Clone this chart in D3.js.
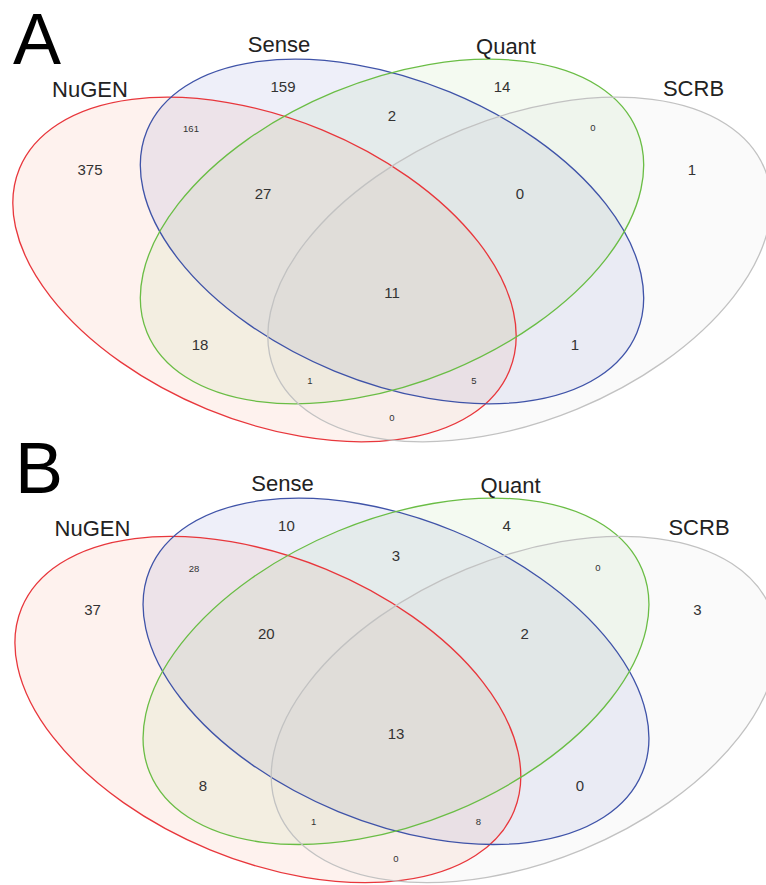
<!DOCTYPE html>
<html>
<head>
<meta charset="utf-8">
<script src="https://cdn.jsdelivr.net/npm/d3@7"></script>
<style>
html,body{margin:0;padding:0;background:#fff;}
svg{display:block;}
</style>
</head>
<body>
<svg id="chart" width="766" height="885"></svg>
<script>
// ---- data ----
const setNames = ["NuGEN", "Sense", "Quant", "SCRB"];
const panels = ["A", "B"];
// region keys: N=NuGEN, S=Sense, Q=Quant, C=SCRB
const regionKeys = ["N","S","Q","C","NS","SQ","QC","NSQ","SQC","NSQC","NQ","SC","NQC","NSC","NC"];
const valuesA = [375, 159, 14, 1, 161, 2, 0, 27, 0, 11, 18, 1, 1, 5, 0];
const valuesB = [37, 10, 4, 3, 28, 3, 0, 20, 2, 13, 8, 0, 1, 8, 0];
const smallRegions = ["NS","QC","NQC","NSC","NC"];

// ---- layout (model units, relative to diagram symmetry centre) ----
const ellipseLayout = [
  {cx:-127.5, cy:0,   rot: 22.4, stroke:"#e8373c", fill:"rgba(240,110,70,0.09)"},
  {cx:0,      cy:-38, rot: 22.4, stroke:"#3f53a8", fill:"rgba(70,80,190,0.09)"},
  {cx:0,      cy:-38, rot:-22.4, stroke:"#6abd45", fill:"rgba(120,190,80,0.08)"},
  {cx:127.5,  cy:0,   rot:-22.4, stroke:"#c2c2c2", fill:"rgba(190,190,190,0.08)"}
];
const semiA = 265, semiB = 151;
const regionPos = {
  N:[-302,-99.5], S:[-109,-182.5], Q:[110,-182.5], C:[300,-99.5],
  NS:[-201,-140.5], SQ:[0,-153.5], QC:[201,-141.5],
  NSQ:[-129,-75.5], SQC:[128,-75.5], NSQC:[0,23.5],
  NQ:[-192,75.5], SC:[183,75.5], NQC:[-82,111.5], NSC:[82,111.5], NC:[0,148.5]
};
const namePos = [[-302,-172.5],[-113,-217.5],[114,-215.5],[301.5,-173.5]];
const panelGeom = [
  {cx:392, cy:269.5, k:1.0,  letterX:13, letterY:64, values:valuesA},
  {cx:396, cy:709.5, k:1.005, letterX:15, letterY:493, values:valuesB}
];

const svg = d3.select("#chart");

panelGeom.forEach((pg, pi) => {
  const xs = d3.scaleLinear().domain([-400, 400]).range([pg.cx - 400*pg.k, pg.cx + 400*pg.k]);
  const ys = d3.scaleLinear().domain([-400, 400]).range([pg.cy - 400*pg.k, pg.cy + 400*pg.k]);
  const g = svg.append("g");

  g.selectAll("ellipse.fill").data(ellipseLayout).join("ellipse")
    .attr("class","fill")
    .attr("cx", 0).attr("cy", 0)
    .attr("rx", semiA*pg.k).attr("ry", semiB*pg.k)
    .attr("transform", d => `translate(${xs(d.cx)},${ys(d.cy)}) rotate(${d.rot})`)
    .attr("fill", d => d.fill)
    .attr("stroke", "none");

  g.selectAll("ellipse.line").data(ellipseLayout).join("ellipse")
    .attr("class","line")
    .attr("cx", 0).attr("cy", 0)
    .attr("rx", semiA*pg.k).attr("ry", semiB*pg.k)
    .attr("transform", d => `translate(${xs(d.cx)},${ys(d.cy)}) rotate(${d.rot})`)
    .attr("fill", "none")
    .attr("stroke", d => d.stroke)
    .attr("stroke-width", 1.3);

  g.selectAll("text.count").data(regionKeys.map((k,i)=>({k, v:pg.values[i]}))).join("text")
    .attr("class","count")
    .attr("x", d => xs(regionPos[d.k][0]))
    .attr("y", d => ys(regionPos[d.k][1]))
    .attr("dy", "0.36em")
    .attr("text-anchor","middle")
    .attr("font-family","Liberation Sans, Arial, sans-serif")
    .attr("font-size", d => smallRegions.includes(d.k) ? 9.5 : 15)
    .attr("fill","#333")
    .text(d => d.v);

  g.selectAll("text.setname").data(setNames).join("text")
    .attr("class","setname")
    .attr("x", (d,i) => xs(namePos[i][0]))
    .attr("y", (d,i) => ys(namePos[i][1]))
    .attr("text-anchor","middle")
    .attr("font-family","Liberation Sans, Arial, sans-serif")
    .attr("font-size", 22)
    .attr("fill","#222")
    .text(d => d);

  g.append("text")
    .attr("x", pg.letterX).attr("y", pg.letterY)
    .attr("font-family","Liberation Sans, Arial, sans-serif")
    .attr("font-size", 72)
    .attr("fill","#000")
    .text(panels[pi]);
});
</script>
</body>
</html>
